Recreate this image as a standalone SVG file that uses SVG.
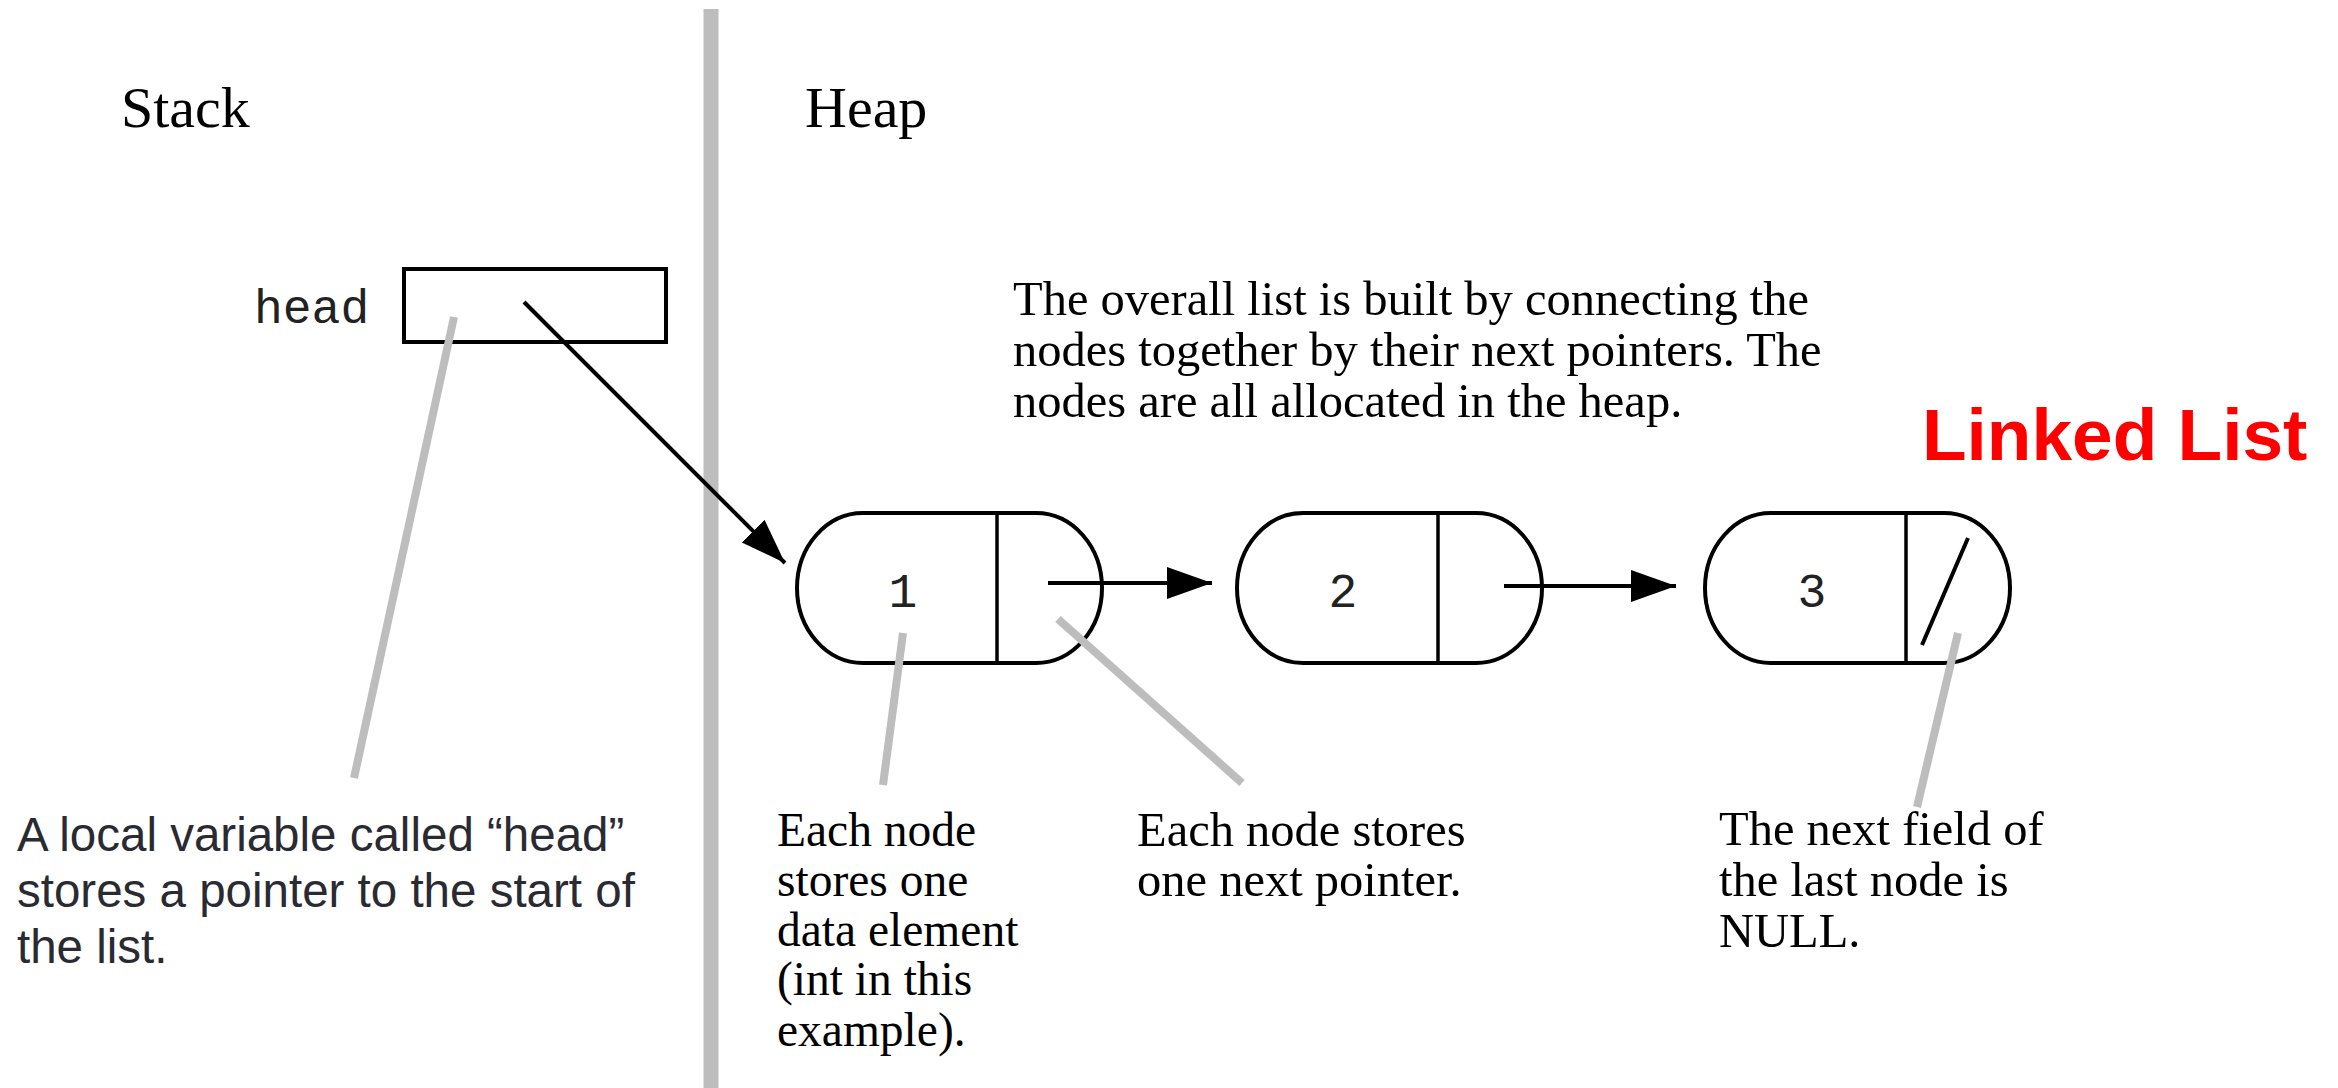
<svg xmlns="http://www.w3.org/2000/svg" width="2338" height="1088" viewBox="0 0 2338 1088">
<style>
  .serif { font-family: "Liberation Serif", "Times New Roman", serif; font-size: 48.5px; fill: #000; }
  .narrow { font-size: 47.5px; }
  .title { font-family: "Liberation Serif", "Times New Roman", serif; font-size: 58px; fill: #000; }
  .mono { font-family: "Liberation Mono", "Courier New", monospace; font-size: 48px; fill: #222; }
  .sans { font-family: "Liberation Sans", Arial, sans-serif; font-size: 47.5px; fill: #2a2a33; }
  .red { font-family: "Liberation Sans", Arial, sans-serif; font-size: 73px; font-weight: bold; fill: #ff0000; }
  .nodebox { fill: #fff; stroke: #000; stroke-width: 4; }
  .sep { stroke: #000; stroke-width: 3.5; }
  .ptr { stroke: #000; stroke-width: 4; fill: none; }
  .leader { stroke: #bdbdbd; stroke-width: 8; fill: none; }
</style>
<defs>
  <marker id="ah" markerUnits="userSpaceOnUse" markerWidth="46" markerHeight="36" refX="45" refY="18" orient="auto">
    <path d="M0,2 L45,18 L0,34 Z" fill="#000"/>
  </marker>
</defs>
<rect width="2338" height="1088" fill="#fff"/>

<g id="divider">
  <line x1="711" y1="9" x2="711" y2="1088" stroke="#bdbdbd" stroke-width="15"/>
</g>

<g id="labels">
  <text class="title" x="121" y="127">Stack</text>
  <text class="title" x="805" y="127">Heap</text>
  <text class="red" x="1922" y="460">Linked List</text>
  <text class="serif" x="1013" y="315">The overall list is built by connecting the</text>
  <text class="serif" x="1013" y="366">nodes together by their next pointers. The</text>
  <text class="serif" x="1013" y="417">nodes are all allocated in the heap.</text>
</g>

<g id="head">
  <text class="mono" x="254" y="323">head</text>
  <rect x="404" y="269" width="262" height="73" fill="#fff" stroke="#000" stroke-width="4"/>
</g>

<g id="node1">
  <rect class="nodebox" x="797" y="513" width="305" height="150" rx="66" ry="75"/>
  <line class="sep" x1="997" y1="513" x2="997" y2="663"/>
  <text class="mono" x="903" y="607" text-anchor="middle">1</text>
</g>
<g id="node2">
  <rect class="nodebox" x="1237" y="513" width="305" height="150" rx="66" ry="75"/>
  <line class="sep" x1="1438" y1="513" x2="1438" y2="663"/>
  <text class="mono" x="1343" y="607" text-anchor="middle">2</text>
</g>
<g id="node3">
  <rect class="nodebox" x="1705" y="513" width="305" height="150" rx="66" ry="75"/>
  <line class="sep" x1="1906" y1="513" x2="1906" y2="663"/>
  <text class="mono" x="1812" y="607" text-anchor="middle">3</text>
  <line x1="1968" y1="538" x2="1922" y2="645" stroke="#000" stroke-width="4"/>
</g>

<g id="connectors">
  <line class="ptr" x1="524" y1="302" x2="785" y2="563" stroke-width="3.5" marker-end="url(#ah)"/>
  <line class="ptr" x1="1048" y1="583" x2="1212" y2="583" marker-end="url(#ah)"/>
  <line class="ptr" x1="1504" y1="586" x2="1676" y2="586" marker-end="url(#ah)"/>
  <line class="leader" x1="454" y1="317" x2="354" y2="778"/>
  <line class="leader" x1="903" y1="633" x2="883" y2="785"/>
  <line class="leader" x1="1058" y1="619" x2="1242" y2="783"/>
  <line class="leader" x1="1958" y1="633" x2="1917" y2="807"/>
</g>

<g id="notes">
  <text class="sans" x="17" y="851">A local variable called “head”</text>
  <text class="sans" x="17" y="907">stores a pointer to the start of</text>
  <text class="sans" x="17" y="963">the list.</text>

  <text class="serif narrow" x="777" y="846">Each node</text>
  <text class="serif narrow" x="777" y="896">stores one</text>
  <text class="serif narrow" x="777" y="946">data element</text>
  <text class="serif narrow" x="777" y="995">(int in this</text>
  <text class="serif narrow" x="777" y="1046">example).</text>

  <text class="serif" x="1137" y="846">Each node stores</text>
  <text class="serif" x="1137" y="896">one next pointer.</text>

  <text class="serif" x="1719" y="845">The next field of</text>
  <text class="serif" x="1719" y="896">the last node is</text>
  <text class="serif" x="1719" y="947">NULL.</text>
</g>
</svg>
